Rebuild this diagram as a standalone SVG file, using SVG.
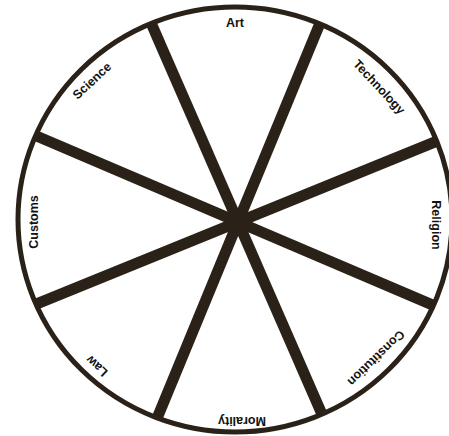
<svg xmlns="http://www.w3.org/2000/svg" width="449" height="436" viewBox="0 0 449 436">
  <style>
    .lbl { font-family: "Liberation Sans", Arial, sans-serif; font-size: 12.5px; font-weight: bold; fill: #141210; text-anchor: middle; dominant-baseline: central; }
    .spoke { stroke: #2a2118; stroke-width: 11; fill: none; }
    .rim { stroke: #2a2118; stroke-width: 5; fill: none; }
  </style>
  <defs>
    <clipPath id="inside">
      <ellipse cx="235" cy="219.5" rx="217" ry="212.5"/>
    </clipPath>
  </defs>
  <rect width="449" height="436" fill="#ffffff"/>
  <g id="connectors" clip-path="url(#inside)">
    <line class="spoke" x1="134" y1="-16" x2="342" y2="460"/>
    <line class="spoke" x1="337" y1="-18" x2="139" y2="462"/>
    <line class="spoke" x1="-3" y1="320" x2="479" y2="124"/>
    <line class="spoke" x1="-1" y1="120" x2="477" y2="324"/>
  </g>
  <g id="wheel">
    <ellipse class="rim" cx="235" cy="219.5" rx="217" ry="212.5"/>
  </g>
  <g id="art"><text class="lbl" x="235" y="23">Art</text></g>
  <g id="technology"><text class="lbl" transform="translate(379,87) rotate(47)">Technology</text></g>
  <g id="religion"><text class="lbl" transform="translate(436,225) rotate(90)">Religion</text></g>
  <g id="constitution"><text class="lbl" transform="translate(376,358) rotate(136)">Constitution</text></g>
  <g id="morality"><text class="lbl" transform="translate(242,421) rotate(180)">Morality</text></g>
  <g id="law"><text class="lbl" transform="translate(97,366) rotate(223)">Law</text></g>
  <g id="customs"><text class="lbl" transform="translate(34,222) rotate(-90)">Customs</text></g>
  <g id="science"><text class="lbl" transform="translate(92,81) rotate(-43)">Science</text></g>
</svg>
